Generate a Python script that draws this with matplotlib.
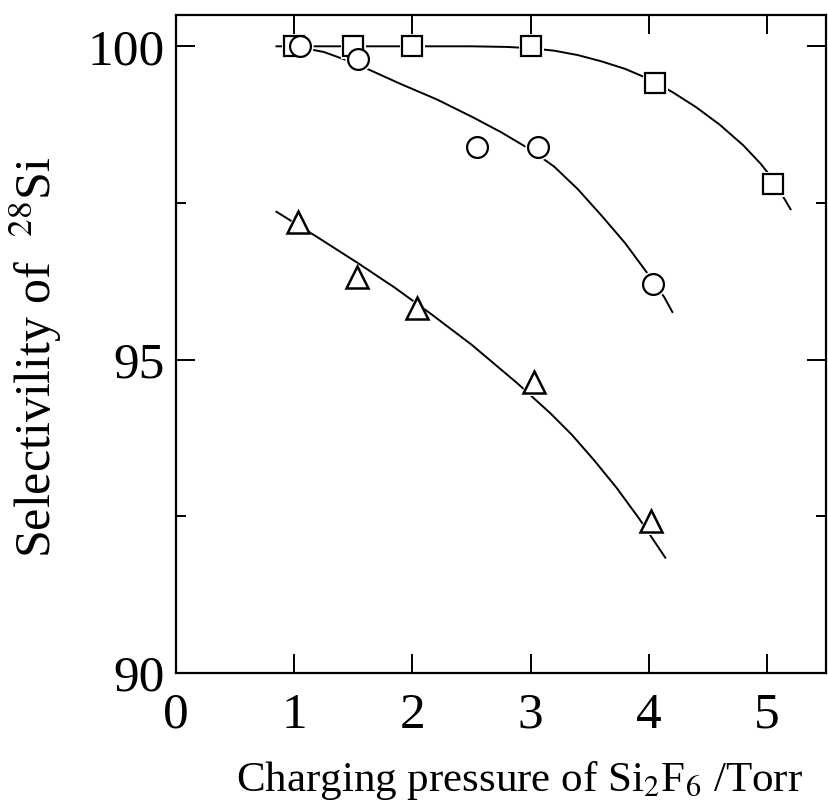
import numpy as np
import matplotlib
matplotlib.use("Agg")
import matplotlib.pyplot as plt
from matplotlib.ticker import MultipleLocator

plt.rcParams['font.family'] = ['Liberation Serif', 'DejaVu Serif']
plt.rcParams['mathtext.fontset'] = 'stix'

# measured points
sq_x = [1.0, 1.5, 2.0, 3.0, 4.05, 5.05]
sq_y = [100.0, 100.0, 100.0, 100.0, 99.42, 97.8]
ci_x = [1.05, 1.54, 2.55, 3.06, 4.04]
ci_y = [100.0, 99.79, 98.4, 98.4, 96.2]
tr_x = [1.03, 1.53, 2.04, 3.03, 4.02]
tr_y = [97.2, 96.32, 95.82, 94.64, 92.42]

# hand-drawn guide curves
sq_cx = [0.85, 1.5, 2.0, 2.5, 2.8, 3.0, 3.2, 3.4, 3.6, 3.8, 4.0, 4.2, 4.4, 4.6, 4.8, 4.95, 5.05, 5.2]
sq_cy = [100.0, 100.0, 100.0, 100.0, 99.99, 99.97, 99.93, 99.86, 99.76, 99.64, 99.48, 99.27, 99.03, 98.75, 98.42, 98.12, 97.88, 97.4]
ci_cx = [1.0, 1.25, 1.47, 1.63, 1.9, 2.21, 2.52, 2.75, 3.0, 3.2, 3.4, 3.6, 3.8, 3.98, 4.13, 4.2]
ci_cy = [100.0, 99.91, 99.76, 99.63, 99.4, 99.15, 98.86, 98.63, 98.35, 98.08, 97.72, 97.3, 96.86, 96.4, 96.0, 95.76]
tr_cx = [0.85, 1.2, 1.54, 1.85, 2.15, 2.5, 2.89, 3.17, 3.35, 3.54, 3.73, 3.92, 4.14]
tr_cy = [97.36, 96.95, 96.54, 96.15, 95.74, 95.24, 94.62, 94.14, 93.8, 93.39, 92.95, 92.46, 91.84]

fig = plt.figure(figsize=(8.29, 8.05), dpi=100)
ax = fig.add_axes([0.2123, 0.164, 0.7841, 0.8174])

for cx, cy in [(sq_cx, sq_cy), (ci_cx, ci_cy), (tr_cx, tr_cy)]:
    ax.plot(cx, cy, color='black', lw=1.4, zorder=2, solid_joinstyle='round')

# white halos leave small gaps in the curves around the symbols
ax.plot(sq_x, sq_y, 's', ms=18, mfc='white', mec='white', mew=0, zorder=3)
ax.plot(ci_x, ci_y, 'o', ms=19, mfc='white', mec='white', mew=0, zorder=3)
ax.plot(tr_x, tr_y, '^', ms=20, mfc='white', mec='white', mew=0, zorder=3)

ax.plot(sq_x, sq_y, 's', ms=14.5, mfc='white', mec='black', mew=1.6, zorder=4)
ax.plot(ci_x, ci_y, 'o', ms=15, mfc='white', mec='black', mew=1.6, zorder=5)
ax.plot(tr_x, tr_y, '^', ms=15.5, mfc='white', mec='black', mew=1.8, zorder=4)

ax.set_xlim(0, 5.5)
ax.set_ylim(90, 100.5)
ax.xaxis.set_major_locator(MultipleLocator(1))
ax.yaxis.set_major_locator(MultipleLocator(5))
ax.yaxis.set_minor_locator(MultipleLocator(2.5))
ax.tick_params(which='both', direction='in', top=True, right=True,
               labelsize=37, width=1.4)
ax.tick_params(which='major', length=14)
ax.tick_params(which='minor', length=7)
ax.tick_params(axis='x', pad=14)
ax.tick_params(axis='y', pad=8)
for s in ax.spines.values():
    s.set_linewidth(1.6)

ax.set_xlabel(r'Charging pressure of Si$_2$F$_6$ /Torr', fontsize=31)
ax.set_ylabel(r'Selectivility of  $^{28}$Si', fontsize=36)
ax.xaxis.set_label_coords(0.528, -0.13)
ax.yaxis.set_label_coords(-0.173, 0.48)

fig.savefig('out.png', dpi=100)
